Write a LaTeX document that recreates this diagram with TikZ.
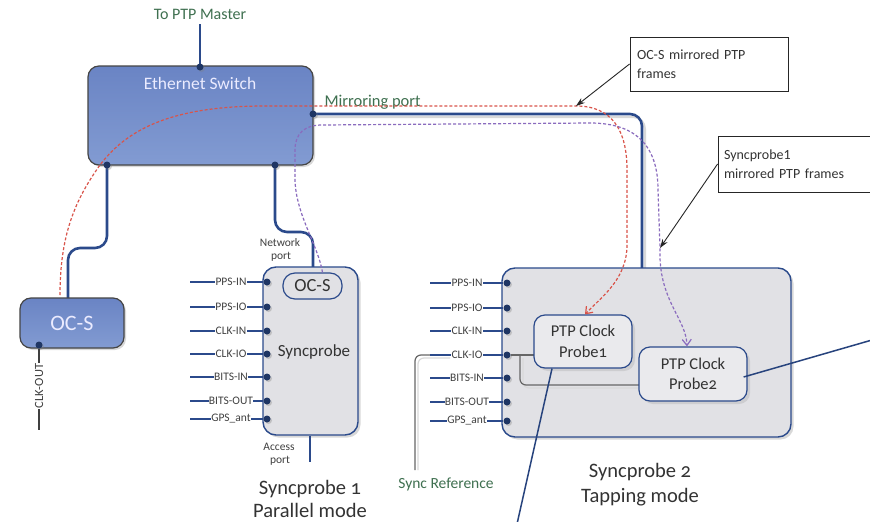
\documentclass[tikz,border=0pt]{standalone}
\usepackage{fontspec}
\setmainfont{Carlito}[Numbers=OldStyle]
\usetikzlibrary{arrows.meta,shadows,calc}
\definecolor{navy}{HTML}{2B4A8B}
\definecolor{dotc}{HTML}{1F3664}
\definecolor{grn}{HTML}{3F7050}
\definecolor{swtop}{HTML}{6A84C4}
\definecolor{swbot}{HTML}{829BD2}
\definecolor{boxfill}{HTML}{E1E1E5}
\definecolor{redd}{HTML}{D9544A}
\definecolor{purp}{HTML}{8A6BBE}
\definecolor{edgegray}{HTML}{454545}
\tikzset{
  wire/.style={draw=navy, line width=2.6pt},
  wireshadow/.style={draw=black!15, line width=2pt},
  thinwire/.style={draw=navy, line width=1.4pt},
  portline/.style={draw=navy, line width=1.1pt},
  port/.style={circle, fill=dotc, inner sep=0pt, minimum size=7pt,
     drop shadow={shadow xshift=1.5pt, shadow yshift=-1.5pt, opacity=0.35}},
  plabel/.style={font=\fontsize{11.5}{12}\selectfont, fill=white, inner sep=0.4pt, text=black!75},
  swbox/.style={draw=edgegray, line width=1.2pt, rounded corners=11pt,
     top color=swtop, bottom color=swbot,
     drop shadow={shadow xshift=2pt, shadow yshift=-2pt, opacity=0.3}},
  spbox/.style={draw=navy, line width=1.4pt, rounded corners=13pt, fill=boxfill,
     drop shadow={shadow xshift=2.5pt, shadow yshift=-2.5pt, opacity=0.3}},
  probebox/.style={draw=navy, line width=1.2pt, rounded corners=11pt, fill=boxfill!70!white,
     align=center, font=\fontsize{16.5}{20.5}\selectfont, text=black!80,
     drop shadow={shadow xshift=3pt, shadow yshift=-3pt, opacity=0.2}},
  greentxt/.style={text=grn, font=\fontsize{16}{17}\selectfont},
  smalltxt/.style={font=\fontsize{11.5}{12}\selectfont, text=black!75},
  titletxt/.style={font=\fontsize{20.5}{23}\selectfont, text=black!80, align=center},
  callbox/.style={draw=black!85, line width=0.9pt, fill=white, align=left,
     font=\fontsize{14}{19}\selectfont\addfontfeatures{Numbers=Lining}, text=black!80, inner sep=0pt},
  callarrow/.style={draw=black!85, line width=0.9pt, -{Stealth[length=9pt,width=6pt]}},
  reddash/.style={draw=redd, line width=1.2pt, dash pattern=on 3pt off 2pt, -{Straight Barb[length=6pt,width=9pt]}},
  purpdash/.style={draw=purp, line width=1.2pt, dash pattern=on 3pt off 2pt, -{Straight Barb[length=6pt,width=9pt]}},
  grayline/.style={draw=black!60, line width=1.2pt},
  grayshadow/.style={draw=black!15, line width=1.2pt},
  probeline/.style={draw=navy!90!black, line width=1.5pt}
}
\begin{document}
\begin{tikzpicture}[x=1pt,y=-1pt]
\useasboundingbox[fill=white] (0,0) rectangle (870,522);

% ---------- coordinates ----------
\coordinate (ptpm) at (200,24);
\coordinate (ocsin) at (68,298);
\coordinate (sp1in) at (313,268);
\coordinate (sp2in) at (642,268);
\coordinate (clkend) at (39,430);
\coordinate (acc) at (310,462);
\coordinate (sr1) at (450,355);
\coordinate (sr2) at (415,470);
\coordinate (br) at (520,355);
\coordinate (brend) at (639,385);
\coordinate (redpt) at (576,106);
\coordinate (purppt) at (660,248);
\coordinate (p1out) at (517,524);
\coordinate (p2out) at (872,340);

% ---------- main wires (behind boxes) ----------
\draw[wireshadow, rounded corners=12pt] (315,117) -| (645,268);
\draw[wire, rounded corners=12pt] (313,114) -| (sp2in);
\draw[wire] (ptpm) -- (200,67);
\draw[wire, rounded corners=12pt] (107,165) |- (68,248) -- (ocsin);
\draw[wire, rounded corners=12pt] (275,165) |- (313,232) -- (sp1in);

% ---------- boxes ----------
\node[swbox, minimum width=225pt, minimum height=99pt] (sw) at (200.5,115.5) {};
\node[text=white!92!blue, font=\fontsize{17.5}{18}\selectfont] (swlbl) at (200,83) {Ethernet Switch};
\node[greentxt] (ptptxt) at (200,14) {To PTP Master};
\node[greentxt, anchor=west, font=\fontsize{16.5}{17}\selectfont] (mirtxt) at (321,102) {Mirroring port};

\node[swbox, minimum width=104pt, minimum height=50pt, text=white!92!blue,
      font=\fontsize{22}{22}\selectfont] (ocs) at (72,323) {OC-S};

\node[spbox, minimum width=95pt, minimum height=168pt] (sp1) at (310.5,351) {};
\node[draw=navy, line width=1.2pt, rounded corners=12pt, minimum width=59pt, minimum height=26pt,
      inner sep=1pt, font=\fontsize{18.5}{19}\selectfont, text=black!80] (ocs1) at (312.5,286) {OC-S};
\node[font=\fontsize{17}{18}\selectfont, text=black!80] (sp1lbl) at (314,352) {Syncprobe};
\node[smalltxt] (netp1) at (280,243) {Network};
\node[smalltxt] (netp2) at (281,257) {port};
\node[smalltxt] (accp1) at (279,447) {Access};
\node[smalltxt] (accp2) at (280,461) {port};
\draw[thinwire] (sp1.south -| acc) -- (acc);

\node[spbox, minimum width=289pt, minimum height=169pt] (sp2) at (646.5,352.5) {};

% ---------- CLK-OUT ----------
\node[port] (clko) at (39,345) {};
\draw[draw=black!75, line width=1.6pt] (clko) -- (clkend);
\node[smalltxt, rotate=90, fill=white, inner sep=0.6pt, font=\fontsize{12.5}{13}\selectfont] (clktxt) at (39,386) {CLK-OUT};

% ---------- Syncprobe 1 ports ----------
\foreach \yy/\tt [count=\i] in {282/PPS-IN, 307/PPS-IO, 331/CLK-IN, 354/CLK-IO, 377/BITS-IN, 401/BITS-OUT, 419/GPS\_ant}{
  \coordinate (a\i) at (190,\yy);
  \node[port] (d\i) at (267,\yy) {};
  \draw[portline] (a\i) -- (d\i);
  \node[plabel] (la\i) at (231,\yy) {\tt};
}

% ---------- Sync reference ----------
\draw[grayshadow, rounded corners=6pt] (450,358) -| (418,470);
\draw[grayline, rounded corners=6pt] (sr1) -| (sr2);
\node[greentxt, font=\fontsize{15.5}{16}\selectfont] (srtxt) at (446,484) {Sync Reference};

% ---------- Syncprobe 2 ports ----------
\foreach \yy/\tt [count=\i] in {283/PPS-IN, 308/PPS-IO, 331/CLK-IN, 355/CLK-IO, 378/BITS-IN, 402/BITS-OUT, 421/GPS\_ant}{
  \coordinate (b\i) at (430,\yy);
  \node[port] (e\i) at (507,\yy) {};
  \draw[portline] (b\i) -- (e\i);
  \node[plabel] (lb\i) at (467,\yy) {\tt};
}

% ---------- inner gray lines ----------
\draw[grayshadow, rounded corners=6pt] (523,358) |- (639,388);
\draw[grayline, rounded corners=6pt] (br) |- (brend);
\draw[grayline] (e4) -- (534,355);

% ---------- probes ----------
\node[probebox, minimum width=98pt, minimum height=53pt, inner sep=1pt] (p1) at (583,341.5) {PTP Clock\\Probe1};
\node[probebox, minimum width=108pt, minimum height=54pt, inner sep=1pt] (p2) at (693,374) {PTP Clock\\Probe2};
\draw[probeline] ($(p1.south)+(-31,0)$) -- (p1out);
\draw[probeline] ($(p2.east)+(-4,3)$) -- (p2out);

% ---------- switch ports ----------
\node[port] (swt) at (200,67) {};
\node[port] (swm) at (313,114) {};
\node[port] (swl) at (107,165) {};
\node[port] (swr) at (275,165) {};

% ---------- dashed frame paths ----------
\draw[reddash] (60,295) .. controls (60,235) and (75,200) .. (100,165)
   .. controls (130,125) and (180,106) .. (265,106) -- (redpt)
   .. controls (612,106) and (627,130) .. (627,170) -- (627,245)
   .. controls (627,280) and (600,298) .. ($(p1.north)+(2,0)$);
\draw[purpdash] ($(ocs1.north)+(10,0)$) .. controls (318,245) and (296,215) .. (295,180)
   -- (295,150) .. controls (295,133) and (305,125) .. (322,125) -- (590,123)
   .. controls (640,123) and (658,150) .. (658,190) -- (purppt)
   .. controls (658,300) and (686,318) .. ($(p2.north)+(-6,0)$);

% ---------- callouts ----------
\node[callbox, minimum width=158pt, minimum height=54pt, text width=144pt] (cb1) at (709,64)
  {OC-S mirrored PTP\\frames};
\node[callbox, minimum width=152pt, minimum height=56pt, text width=140pt] (cb2) at (794,164)
  {Syncprobe1\\mirrored PTP frames};
\draw[callarrow] (cb1.west) -- (redpt);
\draw[callarrow] (cb2.west) -- (purppt);

% ---------- titles ----------
\node[titletxt] (t1) at (310,499) {Syncprobe 1\\Parallel mode};
\node[titletxt, font=\fontsize{20.5}{25}\selectfont] (t2) at (640,485) {Syncprobe 2\\Tapping mode};
\end{tikzpicture}
\end{document}
